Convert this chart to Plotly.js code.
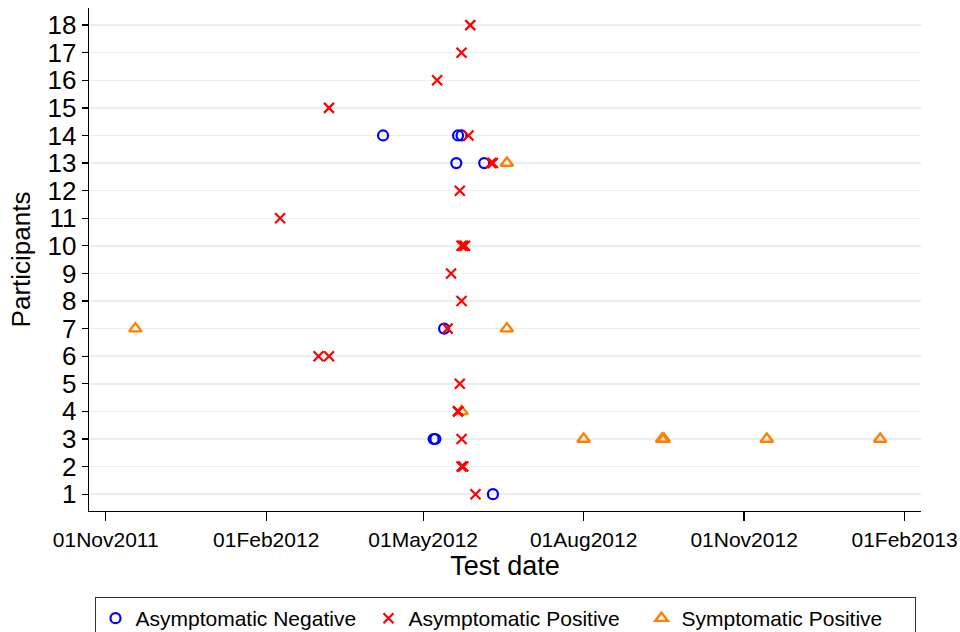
<!DOCTYPE html>
<html>
<head>
<meta charset="utf-8">
<script src="https://cdn.plot.ly/plotly-3.0.1.min.js"></script>
<style>html,body{margin:0;padding:0;background:#fff;}#chart{width:960px;height:632px;}</style>
</head>
<body>
<div id="chart"></div>
<script>
// Asymptomatic Negative
const negDates = ['2012-04-08','2012-05-21','2012-05-23','2012-05-20','2012-06-05','2012-05-13','2012-05-07','2012-05-08','2012-06-10'];
const negY     = [14,14,14,13,13,7,3,3,1];

// Asymptomatic Positive
const posDates = ['2012-05-28','2012-05-23','2012-05-09','2012-03-08','2012-05-27','2012-06-09','2012-06-10','2012-05-22','2012-02-09',
                  '2012-05-23','2012-05-24','2012-05-25','2012-05-17','2012-05-23','2012-05-15','2012-03-02','2012-03-08',
                  '2012-05-22','2012-05-21','2012-05-21','2012-05-23','2012-05-23','2012-05-24','2012-05-31'];
const posY     = [18,17,16,15,14,13,13,12,11,
                  10,10,10,9,8,7,6,6,
                  5,4,4,3,2,2,1];

// Symptomatic Positive
const sympDates = ['2011-11-18','2012-06-18','2012-06-18','2012-05-23','2012-08-01','2012-09-15','2012-09-16','2012-11-14','2013-01-18'];
const sympY     = [7,13,7,4,3,3,3,3,3];

const xTickDates  = ['2011-11-01','2012-02-01','2012-05-01','2012-08-01','2012-11-01','2013-02-01'];
const xTickLabels = ['01Nov2011','01Feb2012','01May2012','01Aug2012','01Nov2012','01Feb2013'];
const yTicks = [1,2,3,4,5,6,7,8,9,10,11,12,13,14,15,16,17,18];

const FONT = 'Liberation Sans, Arial, sans-serif';

const traces = [
  {x: negDates, y: negY, type: 'scatter', mode: 'markers', name: 'Asymptomatic Negative', legendrank: 1,
   marker: {symbol: 'circle-open', size: 10, color: '#0000ff', line: {width: 2.2, color: '#0000ff'}}},
  {x: sympDates, y: sympY, type: 'scatter', mode: 'markers', name: 'Symptomatic Positive', legendrank: 3,
   marker: {symbol: 'triangle-up-open', size: 11, color: '#ff7f00', line: {width: 2.4, color: '#ff7f00'}}},
  {x: posDates, y: posY, type: 'scatter', mode: 'markers', name: 'Asymptomatic Positive', legendrank: 2,
   marker: {symbol: 'x-thin-open', size: 10, color: '#ff0000', line: {width: 2.2, color: '#ff0000'}}}
];

const layout = {
  width: 960, height: 632,
  margin: {l: 89, r: 39, t: 8, b: 121, autoexpand: false},
  paper_bgcolor: '#ffffff', plot_bgcolor: '#ffffff',
  font: {family: FONT, color: '#000'},
  showlegend: true,
  legend: {orientation: 'h', x: 0.5, xanchor: 'center', y: -0.171, yanchor: 'top',
           bordercolor: '#333', borderwidth: 1, font: {size: 21, family: FONT, color: '#000'},
           entrywidth: 228, entrywidthmode: 'pixels', traceorder: 'normal'},
  xaxis: {type: 'date', range: ['2011-10-22 10:00', '2013-02-10 10:00'],
          tickmode: 'array', tickvals: xTickDates, ticktext: xTickLabels,
          ticks: 'outside', ticklen: 9, tickwidth: 1.3, tickcolor: '#000',
          showline: true, linecolor: '#000', linewidth: 1.3, showgrid: false, zeroline: false,
          tickfont: {size: 21, family: FONT, color: '#000'},
          title: {text: 'Test date', font: {size: 27, family: FONT, color: '#000'}, standoff: 5}},
  yaxis: {range: [0.39, 18.62], tickmode: 'array', tickvals: yTicks, ticktext: yTicks.map(String),
          ticks: 'outside', ticklen: 6, tickwidth: 1.3, tickcolor: '#000',
          showline: true, linecolor: '#000', linewidth: 1.3, zeroline: false,
          showgrid: true, gridcolor: '#e8eff0', gridwidth: 1.5,
          tickfont: {size: 26, family: FONT, color: '#000'},
          title: {text: 'Participants', font: {size: 26, family: FONT, color: '#000'}, standoff: 9}}
};

Plotly.newPlot('chart', traces, layout, {displayModeBar: false, staticPlot: true});
</script>
</body>
</html>
